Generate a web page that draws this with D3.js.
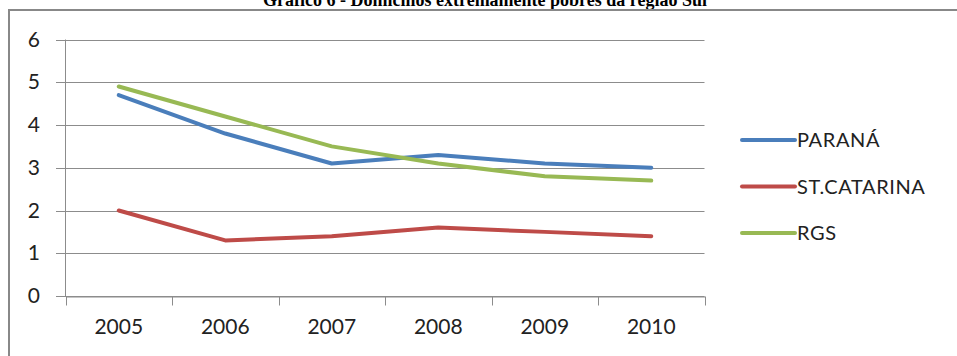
<!DOCTYPE html>
<html>
<head>
<meta charset="utf-8">
<script src="https://cdn.jsdelivr.net/npm/d3@7"></script>
<style>
  body { margin: 0; background: #fff; }
  .tick text { font-family: Lato, "Open Sans", sans-serif; }
</style>
</head>
<body>
<div id="chart"></div>
<script>
// data
var years = ["2005", "2006", "2007", "2008", "2009", "2010"];
var seriesNames = ["PARANÁ", "ST.CATARINA", "RGS"];
var parana = [4.7, 3.8, 3.1, 3.3, 3.1, 3.0];
var catarina = [2.0, 1.3, 1.4, 1.6, 1.5, 1.4];
var rgs = [4.9, 4.2, 3.5, 3.1, 2.8, 2.7];
var yTicks = [0, 1, 2, 3, 4, 5, 6];
var colors = ["#4a7ebb", "#be4b48", "#98b954"];

var width = 957;
var height = 356;
var fontFam = "Lato, 'Open Sans', sans-serif";

var svg = d3
  .select("#chart")
  .append("svg")
  .attr("width", width)
  .attr("height", height);

// title, mostly cut off at the top (as in the scan)
svg
  .append("text")
  .attr("x", 485)
  .attr("y", 6)
  .attr("text-anchor", "middle")
  .attr("font-family", "'Liberation Serif', 'DejaVu Serif', serif")
  .attr("font-weight", "bold")
  .attr("font-size", 18)
  .text("Gráfico 6 - Domicílios extremamente pobres da região Sul");

// chart border
svg
  .append("rect")
  .attr("x", 9)
  .attr("y", 10)
  .attr("width", 980)
  .attr("height", 400)
  .attr("fill", "none")
  .attr("stroke", "#888")
  .attr("stroke-width", 2);

var xScale = d3
  .scaleBand()
  .domain(years)
  .range([65.5, 704.5]);

var yScale = d3
  .scaleLinear()
  .domain([0, 6])
  .range([296, 39.5]);

// gridlines
svg
  .append("g")
  .selectAll("line")
  .data(yTicks)
  .enter()
  .append("line")
  .attr("x1", 56)
  .attr("x2", 704.5)
  .attr("y1", function(d) { return Math.round(yScale(d)) + 0.5; })
  .attr("y2", function(d) { return Math.round(yScale(d)) + 0.5; })
  .attr("stroke", "#8c8c8c")
  .attr("stroke-width", 1);

// y axis
var yAxis = d3
  .axisLeft(yScale)
  .tickValues(yTicks)
  .tickFormat(d3.format("d"))
  .tickSize(0)
  .tickPadding(16);
var gy = svg
  .append("g")
  .attr("transform", "translate(56,0)")
  .call(yAxis);
gy.select(".domain").remove();
gy.selectAll("text")
  .attr("font-size", 21)
  .attr("fill", "#222");

svg
  .append("line")
  .attr("x1", 65.5)
  .attr("x2", 65.5)
  .attr("y1", yScale(6))
  .attr("y2", yScale(0))
  .attr("stroke", "#8c8c8c");

// x axis with tick marks between categories
var gx = svg
  .append("g")
  .attr("transform", "translate(0," + (Math.round(yScale(0)) + 0.5) + ")");
gx.selectAll("line")
  .data(d3.range(years.length + 1))
  .enter()
  .append("line")
  .attr("x1", function(i) { return Math.round(65.5 + i * xScale.bandwidth()) + 0.5; })
  .attr("x2", function(i) { return Math.round(65.5 + i * xScale.bandwidth()) + 0.5; })
  .attr("y1", 0)
  .attr("y2", 9)
  .attr("stroke", "#8c8c8c");
var xAxis = d3.axisBottom(xScale).tickSize(0).tickPadding(23);
gx.call(xAxis);
gx.select(".domain").attr("stroke", "#8c8c8c");
gx.selectAll(".tick text")
  .attr("font-size", 21)
  .attr("fill", "#222");

// lines
var allSeries = [parana, catarina, rgs];
var line = d3
  .line()
  .x(function(d, i) { return xScale(years[i]) + xScale.bandwidth() / 2; })
  .y(function(d) { return yScale(d); });

svg
  .append("g")
  .selectAll("path")
  .data(allSeries)
  .enter()
  .append("path")
  .attr("d", line)
  .attr("fill", "none")
  .attr("stroke", function(d, i) { return colors[i]; })
  .attr("stroke-width", 4)
  .attr("stroke-linejoin", "round")
  .attr("stroke-linecap", "round");

// legend
var legend = svg
  .append("g")
  .selectAll("g")
  .data(seriesNames)
  .enter()
  .append("g")
  .attr("transform", function(d, i) { return "translate(742," + (140 + i * 46.5) + ")"; });

legend
  .append("line")
  .attr("x1", 0)
  .attr("x2", 53)
  .attr("stroke", function(d, i) { return colors[i]; })
  .attr("stroke-width", 4)
  .attr("stroke-linecap", "round");

legend
  .append("text")
  .attr("x", 55)
  .attr("dy", "0.35em")
  .attr("font-family", fontFam)
  .attr("font-size", 20)
  .attr("letter-spacing", 0.6)
  .attr("fill", "#222")
  .text(function(d) { return d; });
</script>
</body>
</html>
